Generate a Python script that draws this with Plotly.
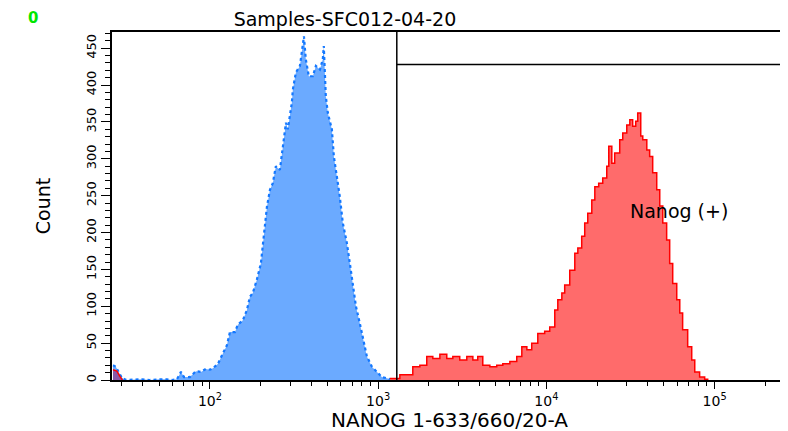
import numpy as np
import plotly.graph_objects as go

# ---- data (log10 intensity, counts) ----
blue_log10 = [1.424, 1.441, 1.459, 1.477, 1.501, 1.596, 1.643, 1.673, 1.703, 1.744, 1.774, 1.804,
              1.828, 1.846, 1.881, 1.917, 1.947, 1.976, 2.000, 2.018, 2.048, 2.077, 2.101, 2.119,
              2.149, 2.166, 2.196, 2.220, 2.238, 2.255, 2.279, 2.303, 2.315, 2.327, 2.339, 2.357,
              2.374, 2.392, 2.416, 2.434, 2.452, 2.463, 2.487, 2.493, 2.511, 2.535, 2.547, 2.559,
              2.570, 2.588, 2.612, 2.630, 2.654, 2.671, 2.677, 2.689, 2.701, 2.725, 2.737, 2.755,
              2.772, 2.790, 2.814, 2.832, 2.850, 2.868, 2.891, 2.909, 2.933, 2.963, 2.992, 3.022,
              3.058, 3.087]
blue_count = [20, 18, 10, 3, 0, 1, 0, 1, 1, 1, 0, 1,
              11, 4, 4, 12, 11, 15, 14, 16, 22, 36, 47, 65,
              65, 75, 81, 95, 113, 118, 136, 158, 186, 208, 235, 258,
              267, 290, 285, 317, 349, 340, 376, 394, 417, 426, 448, 466,
              435, 412, 412, 426, 421, 435, 453, 385, 362, 340, 303, 276,
              249, 213, 186, 158, 127, 100, 77, 59, 32, 18, 11, 4,
              2, 0]

red_low_log10 = [1.424, 1.447, 1.465, 1.480]
red_low_count = [14, 12, 5, 0]

red_log10 = [3.070, 3.111, 3.129, 3.171, 3.206, 3.248, 3.289, 3.325, 3.367, 3.408, 3.444, 3.485,
             3.527, 3.563, 3.592, 3.622, 3.664, 3.705, 3.741, 3.783, 3.824, 3.854, 3.884, 3.913,
             3.949, 3.990, 4.020, 4.050, 4.068, 4.092, 4.109, 4.139, 4.169, 4.187, 4.210, 4.228,
             4.246, 4.270, 4.288, 4.311, 4.335, 4.359, 4.371, 4.389, 4.406, 4.436, 4.454, 4.478,
             4.496, 4.513, 4.531, 4.543, 4.561, 4.573, 4.597, 4.614, 4.632, 4.656, 4.674, 4.692,
             4.715, 4.733, 4.751, 4.775, 4.793, 4.810, 4.840, 4.864, 4.882, 4.911, 4.941, 4.959]
red_count = [2, 2, 7, 7, 18, 20, 32, 29, 35, 29, 32, 27,
             32, 27, 32, 20, 18, 20, 22, 25, 32, 45, 41, 50,
             63, 66, 72, 95, 109, 118, 129, 149, 172, 179, 195, 213,
             226, 244, 262, 267, 274, 290, 317, 294, 308, 326, 335, 346,
             353, 344, 351, 362, 331, 326, 312, 303, 281, 258, 236, 213,
             190, 158, 131, 109, 91, 68, 45, 27, 11, 4, 1, 0]

x_tick_vals = [1e2, 1e3, 1e4, 1e5]
x_tick_text = ["10<sup>2</sup>", "10<sup>3</sup>", "10<sup>4</sup>", "10<sup>5</sup>"]
y_tick_vals = [0, 50, 100, 150, 200, 250, 300, 350, 400, 450]

X_RANGE_LOG10 = [1.418, 5.4185]
Y_RANGE = [0, 472]
GATE_X = 1291          # gate lower bound (intensity)
GATE_Y = 428           # gate top (count)
GATE_LABEL = "Nanog (+)"
GATE_LABEL_POS = (4.79, 229)   # (log10 intensity, count)

TITLE = "Samples-SFC012-04-20"
X_TITLE = "NANOG 1-633/660/20-A"
Y_TITLE = "Count"

# minor log ticks (2..9 in each decade)
minor_vals = [m * 10 ** d for d in range(1, 6) for m in range(2, 10)
              if X_RANGE_LOG10[0] <= np.log10(m * 10 ** d) <= X_RANGE_LOG10[1]]

# ---- figure ----
fig = go.Figure()

fig.add_trace(go.Scatter(
    x=10 ** np.array(blue_log10), y=blue_count, mode="lines",
    line=dict(color="rgb(20,120,255)", width=2.2, dash="dot"),
    fill="tozeroy", fillcolor="rgb(107,170,255)", hoverinfo="skip", showlegend=False))

fig.add_trace(go.Scatter(
    x=10 ** np.array(red_low_log10), y=red_low_count, mode="lines",
    line=dict(color="rgb(255,0,0)", width=1.5),
    fill="tozeroy", fillcolor="rgba(150,60,140,0.75)", hoverinfo="skip", showlegend=False))

fig.add_trace(go.Scatter(
    x=10 ** np.array(red_log10), y=red_count, mode="lines",
    line=dict(color="rgb(255,0,0)", width=1.5, shape="hv"),
    fill="tozeroy", fillcolor="rgb(255,107,107)", hoverinfo="skip", showlegend=False))

# gate
x_max = 10 ** X_RANGE_LOG10[1]
fig.add_shape(type="line", xref="x", yref="paper", x0=GATE_X, x1=GATE_X, y0=0, y1=1,
              line=dict(color="black", width=1.5))
fig.add_shape(type="line", xref="x", yref="y", x0=GATE_X, x1=x_max, y0=GATE_Y, y1=GATE_Y,
              line=dict(color="black", width=1.5))

fig.add_annotation(x=GATE_LABEL_POS[0], y=GATE_LABEL_POS[1], xref="x", yref="y",
                   text=GATE_LABEL, showarrow=False,
                   font=dict(family="DejaVu Sans", size=19, color="black"))

fig.add_annotation(x=-0.128, y=1.072, xref="paper", yref="paper", text="<b>0</b>",
                   showarrow=False, font=dict(family="DejaVu Sans", size=15, color="rgb(0,230,0)"))

# x-axis title as annotation to sit close under the tick labels
fig.add_annotation(x=0.502, y=-0.116, xref="paper", yref="paper", text=X_TITLE,
                   showarrow=False, yanchor="middle",
                   font=dict(family="DejaVu Sans", size=20, color="black"))

fig.update_layout(
    width=780, height=423,
    margin=dict(l=104, r=3, t=24, b=51),
    paper_bgcolor="white", plot_bgcolor="white",
    font=dict(family="DejaVu Sans", color="black"),
    title=dict(text=TITLE, x=0.432, xanchor="center", y=0.973, yanchor="middle",
               yref="container", font=dict(family="DejaVu Sans", size=19, color="black")),
    showlegend=False,
)

fig.update_xaxes(
    type="log", range=X_RANGE_LOG10, tickvals=x_tick_vals, ticktext=x_tick_text,
    ticks="outside", ticklen=7, tickwidth=1, tickcolor="black",
    tickfont=dict(family="DejaVu Sans", size=14),
    minor=dict(ticks="outside", ticklen=4, tickvals=minor_vals, tickcolor="black", showgrid=False),
    showgrid=False, zeroline=False, showline=True, linecolor="black", linewidth=2, mirror=True,
    automargin=False)

fig.update_yaxes(
    range=Y_RANGE, tickvals=y_tick_vals, tickangle=-90,
    ticks="outside", ticklen=9, tickwidth=1, tickcolor="black",
    tickfont=dict(family="DejaVu Sans", size=13),
    minor=dict(ticks="outside", ticklen=5, dtick=10, tickcolor="black", showgrid=False),
    showgrid=False, zeroline=False, showline=True, linecolor="black", linewidth=2, mirror=True,
    title=dict(text=Y_TITLE, font=dict(family="DejaVu Sans", size=19), standoff=28),
    automargin=False)

fig.write_html("out.html")
